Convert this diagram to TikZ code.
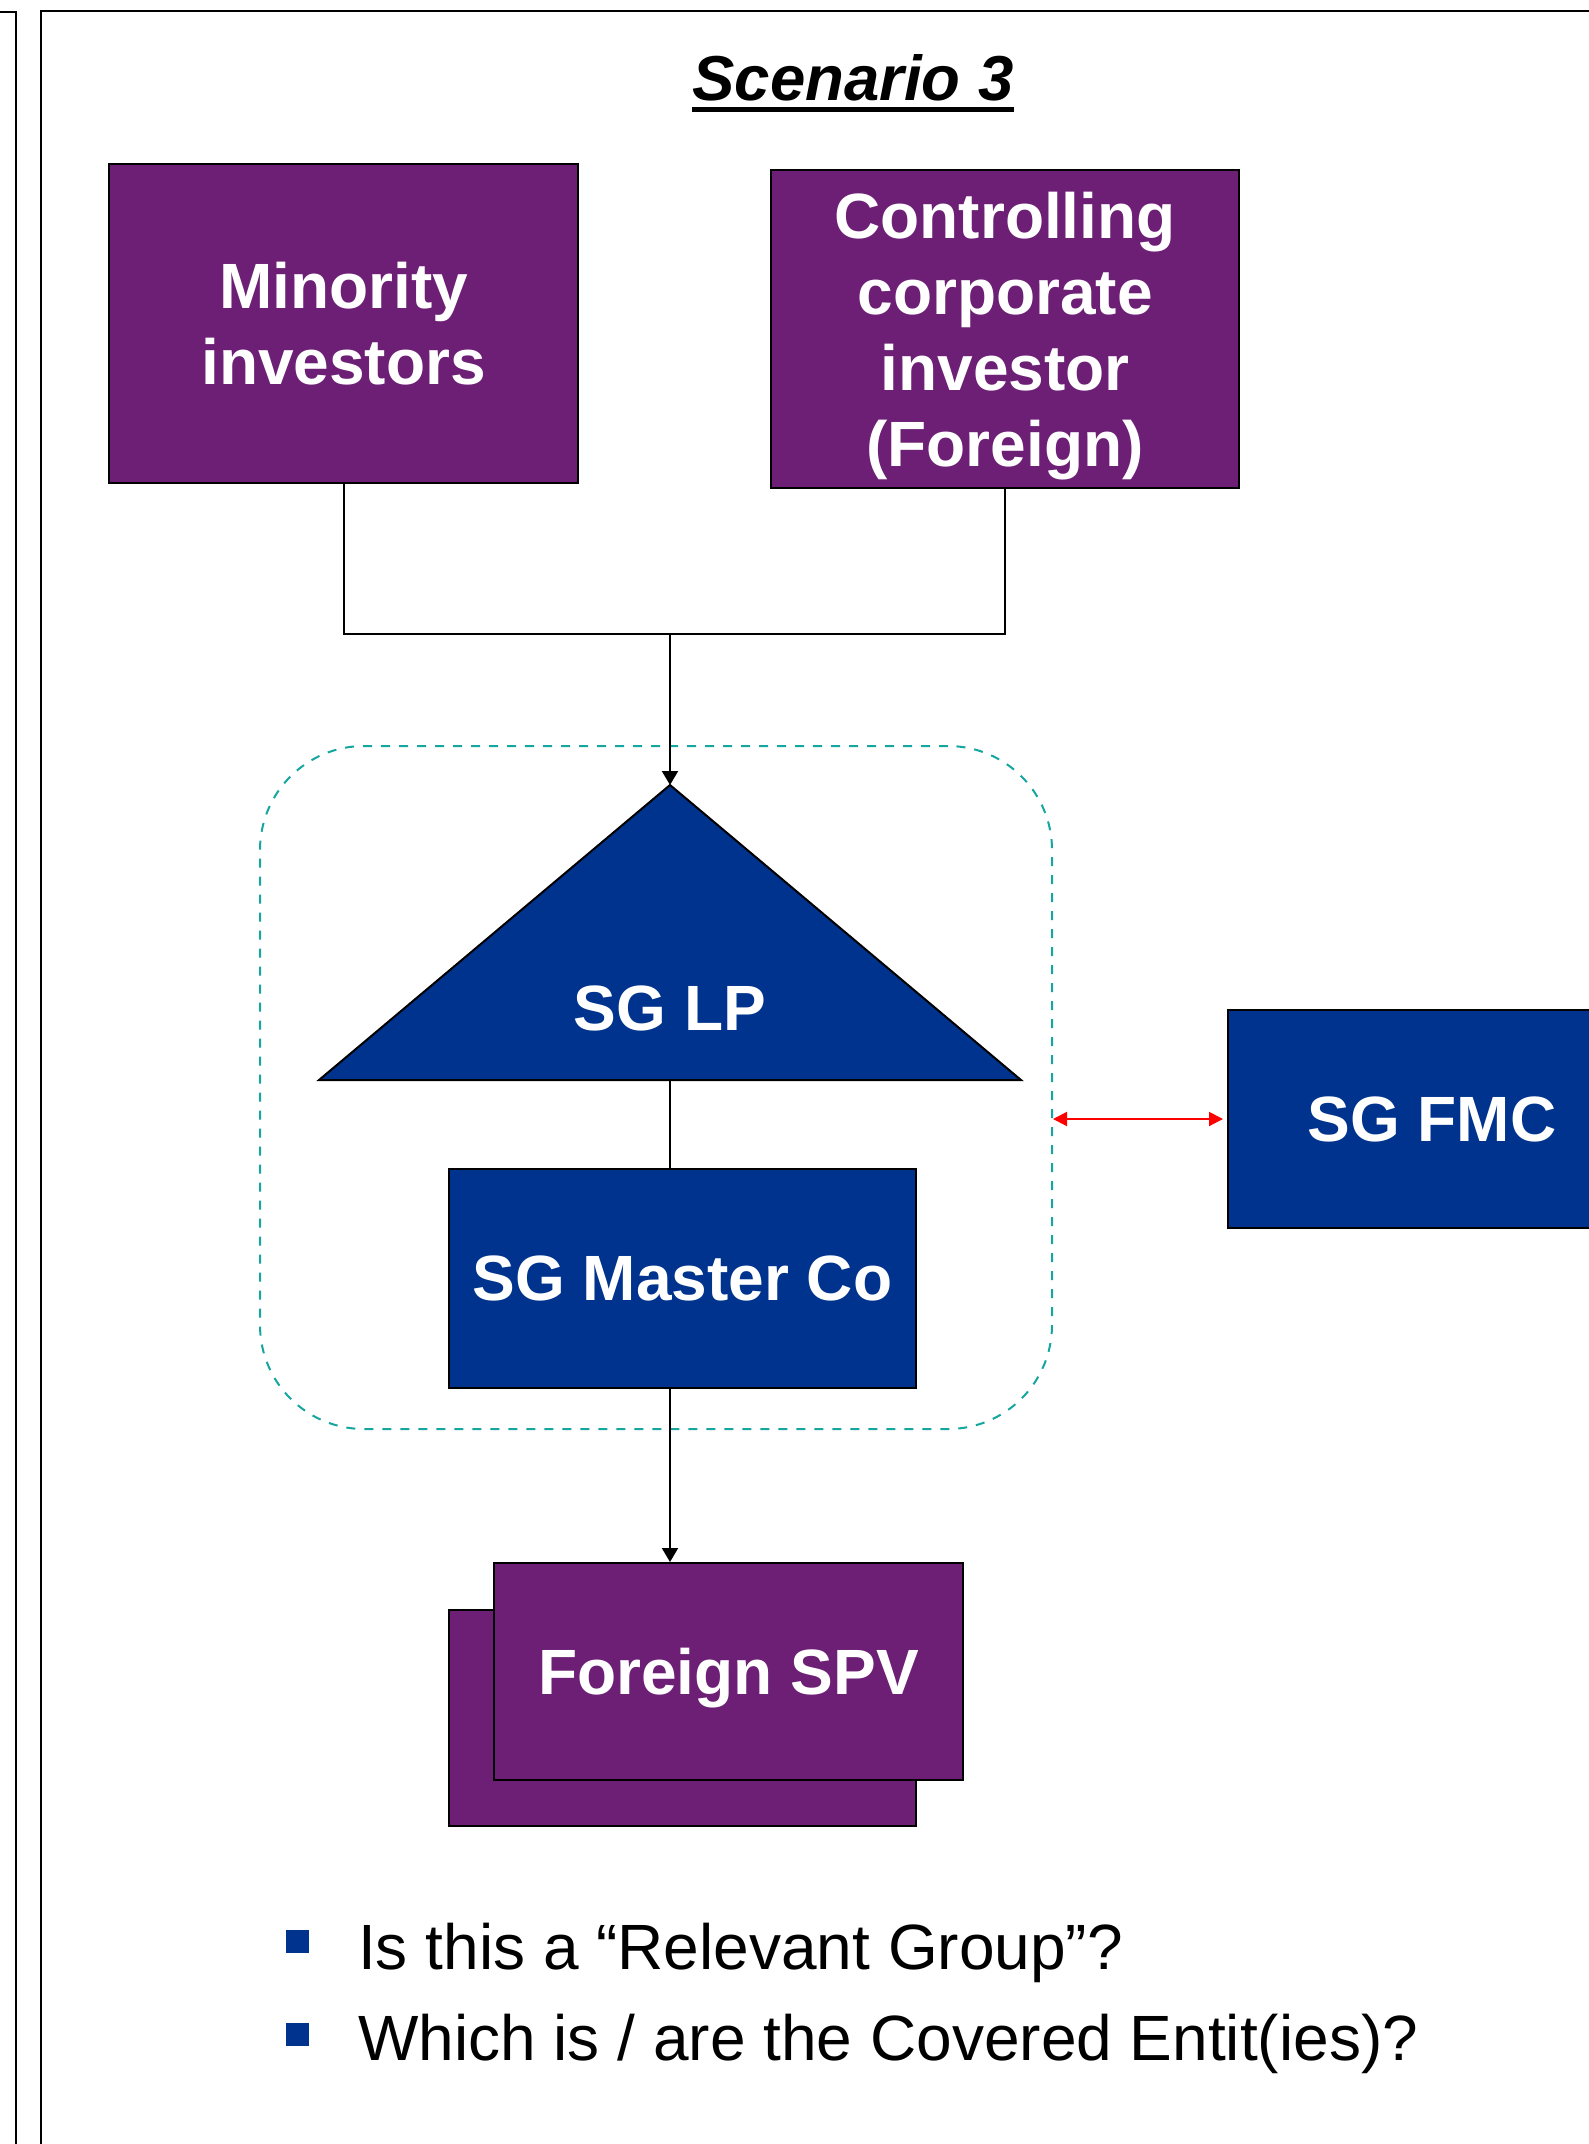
\documentclass[tikz,border=0pt]{standalone}
\usepackage{fontspec}
\setmainfont{Liberation Sans}
\usetikzlibrary{arrows.meta}
\definecolor{cpurple}{RGB}{108,31,116}
\definecolor{cblue}{RGB}{0,51,141}
\definecolor{cteal}{RGB}{22,166,160}
\definecolor{cred}{RGB}{255,0,0}
\begin{document}
\begin{tikzpicture}[x=1pt,y=-1pt,
  every node/.style={inner sep=0pt},
  boxfont/.style={font=\fontsize{64}{76}\selectfont\bfseries, text=white, align=center},
  pbox/.style={draw=black, line width=2pt, fill=cpurple, boxfont},
  bbox/.style={draw=black, line width=2pt, fill=cblue, boxfont},
  conn/.style={line width=2pt, draw=black},
  arr/.style={conn, -{Triangle[length=14pt,width=16pt]}},
  redarr/.style={line width=2pt, draw=cred, {Triangle[length=14pt,width=14pt]}-{Triangle[length=14pt,width=14pt]}},
  grpbox/.style={draw=cteal, line width=2pt, dash pattern=on 9pt off 9pt, rounded corners=104pt},
  framel/.style={line width=2pt, draw=black},
  bulletsq/.style={fill=cblue, minimum size=23pt},
  qtext/.style={anchor=base west, font=\fontsize{64}{76}\selectfont}]
\useasboundingbox (0,0) rectangle (1589,2144);
\fill[white] (0,0) rectangle (1589,2144);
\clip (0,0) rectangle (1589,2144);

% frames
\draw[framel] (0,12) -- (16,12) -- (16,2160);
\draw[framel] (41,2160) -- (41,11) -- (1610,11);

% title
\node[anchor=base, font=\fontsize{63.5}{76}\selectfont\bfseries\itshape] (title) at (853,100) {Scenario 3};
\draw[line width=5pt] ([yshift=-9pt]title.base west) -- ([yshift=-9pt]title.base east);

% investors
\node[pbox, minimum width=469pt, minimum height=319pt] (min) at (343.5,323.5) {Minority\\investors};
\node[pbox, text depth=0pt, minimum width=468pt, minimum height=318pt] (ctrl) at (1005,329) {Controlling\\corporate\\investor\\(Foreign)};

\coordinate (j) at (670,634);
\draw[conn] (min.south) |- (j);
\draw[conn] (ctrl.south) |- (j);

% group
\node[grpbox, minimum width=792pt, minimum height=683pt] (grp) at (656,1087.5) {};

% SG LP triangle
\coordinate (lpA) at (670,785);
\coordinate (lpL) at (319,1080);
\coordinate (lpR) at (1021,1080);
\coordinate (lpB) at (670,1080);
\draw[line width=2pt, draw=black, fill=cblue, line join=miter] (lpA) -- (lpR) -- (lpL) -- cycle;
\node[boxfont, anchor=base] (lp) at (670,1030) {SG LP};

\draw[arr] (j) -- (lpA);

% master co
\node[bbox, minimum width=467pt, minimum height=219pt] (mc) at (682.5,1278.5) {SG Master Co};
\draw[conn] (lpB) -- (lpB |- mc.north);

% FMC
\node[bbox, minimum width=408pt, minimum height=218pt] (fmc) at (1432,1119) {SG FMC};
\draw[redarr] (fmc.west -| grp.east) -- ([xshift=-4pt]fmc.west);

% SPVs
\node[pbox, minimum width=467pt, minimum height=216pt] (spvback) at (682.5,1718) {};
\node[pbox, text depth=0pt, minimum width=469pt, minimum height=217pt] (spv) at (728.5,1671.5) {Foreign SPV};
\draw[arr] (lpB |- mc.south) -- (lpB |- spv.north);

% questions
\node[bulletsq] (b1) at (297.5,1941.5) {};
\node[qtext] (q1) at (358,1969) {Is this a “Relevant Group”?};
\node[bulletsq] (b2) at (297.5,2034.5) {};
\node[qtext] (q2) at (358,2060) {Which is / are the Covered Entit(ies)?};
\end{tikzpicture}
\end{document}
